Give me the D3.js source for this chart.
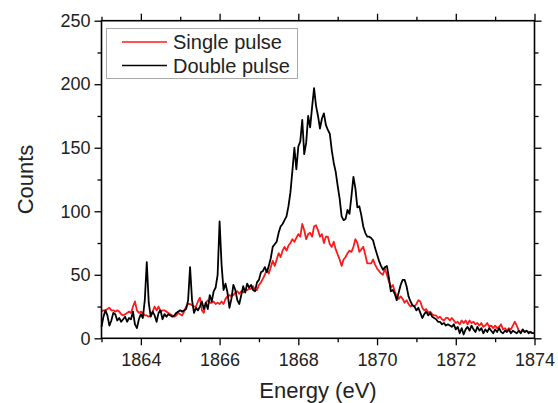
<!DOCTYPE html>
<html>
<head>
<meta charset="utf-8">
<script src="https://cdn.jsdelivr.net/npm/d3@7"></script>
<style>
  body { margin: 0; background: #fff; }
  svg { display: block; font-family: "Liberation Sans", Arial, sans-serif; }
</style>
</head>
<body>
<svg id="chart" width="558" height="403"></svg>
<script>
// spectra sampled every 0.05 eV from 1863 to 1874 (one row = 1 eV)
const eStart = 1863;
const eStep = 0.05;

const singlePulse = [
  21,22,22,23,24,22,22,21,22,21,19,18,19,20,21,20,25,29,22,20,
  21,20,18,18,17,18,21,25,22,25,21,22,22,21,20,19,18,17,18,20,
  19,18,21,25,27,27,26,25,25,29,32,22,20,28,30,28,28,29,27,28,
  27,29,27,31,33,34,33,34,36,37,35,37,36,38,38,39,39,41,38,38,
  42,44,47,50,54,51,56,61,57,62,67,64,69,72,69,73,75,78,76,79,
  82,80,90,85,78,82,83,80,88,89,85,80,82,75,80,80,74,72,76,70,
  66,62,57,62,64,67,69,68,72,78,75,68,70,72,66,59,59,59,62,58,
  55,53,51,50,55,50,45,40,42,37,33,31,33,31,28,30,27,25,26,25,
  27,30,29,24,22,23,20,21,19,18,18,16,17,15,14,16,16,14,16,14,
  12,13,11,14,12,14,11,14,12,13,11,12,10,12,9,10,12,9,10,8,
  10,8,9,11,7,8,6,8,7,10,13,10,6,5,6,5,6,5,5,4,
  4
];

const doublePulse = [
  9,17,22,18,10,14,20,19,14,16,13,15,17,13,16,15,21,11,8,15,
  19,16,30,60,28,17,21,18,13,20,22,15,19,17,19,18,17,18,20,21,
  22,21,22,23,30,56,30,20,24,22,25,29,23,28,23,34,29,37,40,50,
  92,58,38,43,36,24,31,42,38,30,27,34,41,36,43,40,42,38,37,44,
  46,52,53,56,52,57,63,72,74,76,83,88,90,93,96,104,115,132,150,133,
  151,155,172,145,154,175,166,182,197,183,175,165,173,177,168,164,161,148,138,131,
  120,110,96,93,94,101,98,112,127,118,103,104,97,88,83,80,80,79,77,71,
  66,61,57,54,56,57,48,37,38,35,30,36,42,46,46,41,33,29,26,25,
  22,24,20,16,19,21,18,20,17,16,15,13,13,11,12,10,11,10,9,11,
  7,9,4,8,3,7,9,6,10,7,5,9,6,8,4,7,5,8,6,4,
  7,5,8,5,4,6,5,7,4,6,5,4,6,4,7,5,6,4,5,4,
  4
];

const xMajorTicks = [1864, 1866, 1868, 1870, 1872, 1874];
const xMinorTicks = [1863, 1865, 1867, 1869, 1871, 1873];
const yMajorTicks = [0, 50, 100, 150, 200, 250];
const yMinorTicks = [25, 75, 125, 175, 225];

const seriesNames = ["Single pulse", "Double pulse"];
const seriesColors = ["#ff1a1a", "#000000"];

const plotLeft = 101.5, plotRight = 534.5, plotTop = 20.7, plotBottom = 338.3;

const svg = d3.select("#chart");

const x = d3.scaleLinear().domain([1863, 1874]).range([plotLeft, plotRight]);
const y = d3.scaleLinear().domain([0, 250]).range([plotBottom, plotTop]);

const toPoints = vals => vals.map((v, i) => [eStart + i * eStep, v]);

const line = d3.line()
  .x(d => x(d[0]))
  .y(d => y(d[1]));

// curves, red first so black sits on top
[singlePulse, doublePulse].forEach((vals, k) => {
  svg.append("path")
    .datum(toPoints(vals))
    .attr("d", line)
    .attr("fill", "none")
    .attr("stroke", seriesColors[k])
    .attr("stroke-width", 1.8)
    .attr("stroke-linejoin", "round");
});

// axes: major + minor ticks on all four sides, labels left and bottom
function styleAxis(g) {
  g.select(".domain").remove();
  g.selectAll("line").attr("stroke", "#000").attr("stroke-width", 1.3);
  g.selectAll("text").attr("fill", "#222").style("font-size", "18px");
}

svg.append("g").attr("transform", `translate(0,${plotBottom})`)
  .call(d3.axisBottom(x).tickValues(xMajorTicks).tickFormat(d3.format("d")).tickSize(7).tickPadding(8))
  .call(styleAxis);
svg.append("g").attr("transform", `translate(0,${plotBottom})`)
  .call(d3.axisBottom(x).tickValues(xMinorTicks).tickFormat("").tickSize(4))
  .call(styleAxis);
svg.append("g").attr("transform", `translate(0,${plotTop})`)
  .call(d3.axisTop(x).tickValues(xMajorTicks).tickFormat("").tickSize(7))
  .call(styleAxis);
svg.append("g").attr("transform", `translate(0,${plotTop})`)
  .call(d3.axisTop(x).tickValues(xMinorTicks).tickFormat("").tickSize(4))
  .call(styleAxis);

svg.append("g").attr("transform", `translate(${plotLeft},0)`)
  .call(d3.axisLeft(y).tickValues(yMajorTicks).tickSize(7).tickPadding(4))
  .call(styleAxis);
svg.append("g").attr("transform", `translate(${plotLeft},0)`)
  .call(d3.axisLeft(y).tickValues(yMinorTicks).tickFormat("").tickSize(4))
  .call(styleAxis);
svg.append("g").attr("transform", `translate(${plotRight},0)`)
  .call(d3.axisRight(y).tickValues(yMajorTicks).tickFormat("").tickSize(7))
  .call(styleAxis);
svg.append("g").attr("transform", `translate(${plotRight},0)`)
  .call(d3.axisRight(y).tickValues(yMinorTicks).tickFormat("").tickSize(4))
  .call(styleAxis);

// frame
svg.append("rect")
  .attr("x", plotLeft).attr("y", plotTop)
  .attr("width", plotRight - plotLeft).attr("height", plotBottom - plotTop)
  .attr("fill", "none")
  .attr("stroke", "#000")
  .attr("stroke-width", 1.6);

// axis titles
svg.append("text")
  .attr("x", (plotLeft + plotRight) / 2).attr("y", 398)
  .attr("text-anchor", "middle")
  .attr("fill", "#222")
  .style("font-size", "22px")
  .text("Energy (eV)");

svg.append("text")
  .attr("transform", `translate(33,${(plotTop + plotBottom) / 2}) rotate(-90)`)
  .attr("text-anchor", "middle")
  .attr("fill", "#222")
  .style("font-size", "22px")
  .text("Counts");

// legend
const legend = svg.append("g");
legend.append("rect")
  .attr("x", 106.5).attr("y", 28.5)
  .attr("width", 191).attr("height", 50)
  .attr("fill", "#fff")
  .attr("stroke", "#aaa")
  .attr("stroke-width", 1);

seriesNames.forEach((name, k) => {
  const ly = 42 + k * 23.5;
  legend.append("line")
    .attr("x1", 122).attr("x2", 167)
    .attr("y1", ly).attr("y2", ly)
    .attr("stroke", seriesColors[k])
    .attr("stroke-width", 1.6);
  legend.append("text")
    .attr("x", 173).attr("y", ly + 7)
    .attr("fill", "#222")
    .style("font-size", "20px")
    .text(name);
});
</script>
</body>
</html>
